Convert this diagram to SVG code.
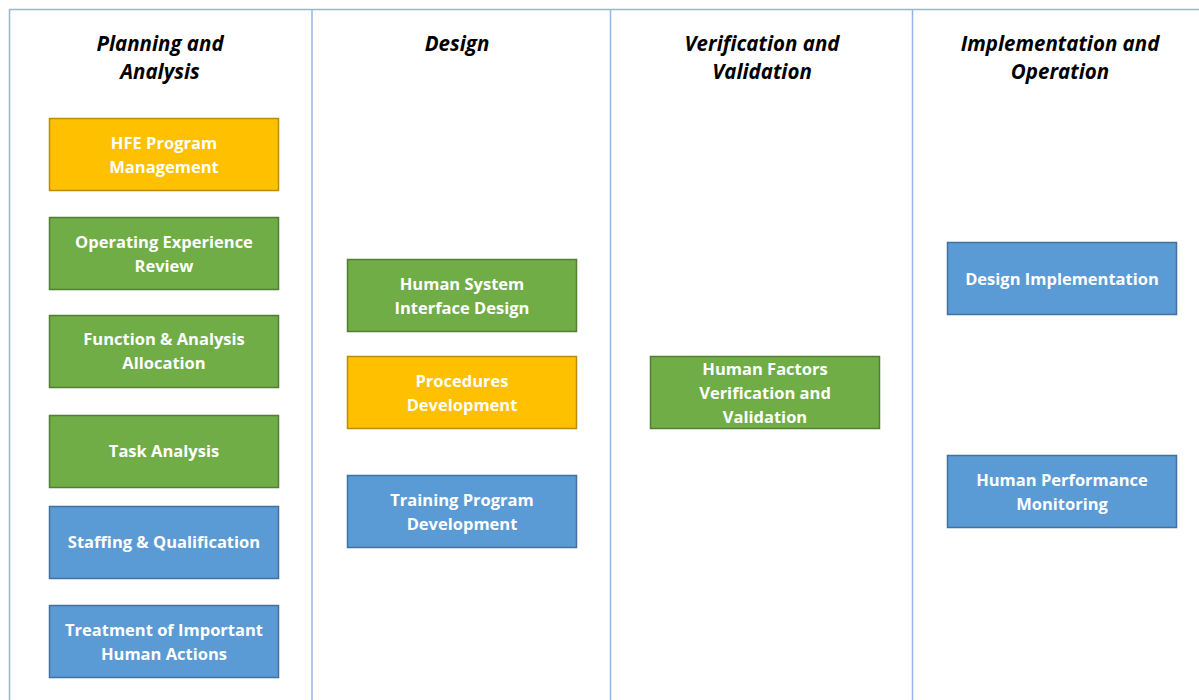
<svg xmlns="http://www.w3.org/2000/svg" width="1199" height="700" viewBox="0 0 1199 700">
  <style>
    .frame { fill: none; stroke: #8DB9E4; stroke-width: 1.5; }
    .head { font-family: "Open Sans", "Liberation Sans", sans-serif; font-weight: bold; font-style: italic; font-size: 20.5px; fill: #000; text-anchor: middle; }
    .lbl { font-family: "Open Sans", "Liberation Sans", sans-serif; font-weight: bold; font-size: 16.5px; fill: #fff; text-anchor: middle; }
    .gold { fill: #FFC000; stroke: #BC8C00; stroke-width: 1.5; }
    .green { fill: #70AD47; stroke: #507E32; stroke-width: 1.5; }
    .blue { fill: #5B9BD5; stroke: #41719C; stroke-width: 1.5; }
  </style>

  <rect width="1199" height="700" fill="#fff"/>

  <!-- phase columns -->
  <g id="columns">
    <path class="frame" d="M9.5 710 V9.5 H1210 M312 9.5 V710 M610.5 9.5 V710 M912.5 9.5 V710"/>
    <text class="head" x="160" y="51">Planning and</text>
    <text class="head" x="160" y="79">Analysis</text>
    <text class="head" x="457" y="51">Design</text>
    <text class="head" x="762" y="51">Verification and</text>
    <text class="head" x="762" y="79">Validation</text>
    <text class="head" x="1060" y="51">Implementation and</text>
    <text class="head" x="1060" y="79">Operation</text>
  </g>

  <g id="connectors"></g>

  <!-- Planning and Analysis -->
  <g id="hfe-program-management">
    <rect class="gold" x="49.5" y="118.5" width="229" height="72"/>
    <text class="lbl" x="164" y="149">HFE Program</text>
    <text class="lbl" x="164" y="173">Management</text>
  </g>
  <g id="operating-experience-review">
    <rect class="green" x="49.5" y="217.5" width="229" height="72"/>
    <text class="lbl" x="164" y="248">Operating Experience</text>
    <text class="lbl" x="164" y="272">Review</text>
  </g>
  <g id="function-analysis-allocation">
    <rect class="green" x="49.5" y="315.5" width="229" height="72"/>
    <text class="lbl" x="164" y="345">Function  &amp; Analysis</text>
    <text class="lbl" x="164" y="369">Allocation</text>
  </g>
  <g id="task-analysis">
    <rect class="green" x="49.5" y="415.5" width="229" height="72"/>
    <text class="lbl" x="164" y="457">Task Analysis</text>
  </g>
  <g id="staffing-qualification">
    <rect class="blue" x="49.5" y="506.5" width="229" height="72"/>
    <text class="lbl" x="164" y="548">Staffing &amp; Qualification</text>
  </g>
  <g id="treatment-important-human-actions">
    <rect class="blue" x="49.5" y="605.5" width="229" height="72"/>
    <text class="lbl" x="164" y="636">Treatment of Important</text>
    <text class="lbl" x="164" y="660">Human Actions</text>
  </g>

  <!-- Design -->
  <g id="hsi-design">
    <rect class="green" x="347.5" y="259.5" width="229" height="72"/>
    <text class="lbl" x="462" y="290">Human System</text>
    <text class="lbl" x="462" y="314">Interface Design</text>
  </g>
  <g id="procedures-development">
    <rect class="gold" x="347.5" y="356.5" width="229" height="72"/>
    <text class="lbl" x="462" y="387">Procedures</text>
    <text class="lbl" x="462" y="411">Development</text>
  </g>
  <g id="training-program-development">
    <rect class="blue" x="347.5" y="475.5" width="229" height="72"/>
    <text class="lbl" x="462" y="506">Training Program</text>
    <text class="lbl" x="462" y="530">Development</text>
  </g>

  <!-- Verification and Validation -->
  <g id="hf-verification-validation">
    <rect class="green" x="650.5" y="356.5" width="229" height="72"/>
    <text class="lbl" x="765" y="375">Human Factors</text>
    <text class="lbl" x="765" y="399">Verification and</text>
    <text class="lbl" x="765" y="423">Validation</text>
  </g>

  <!-- Implementation and Operation -->
  <g id="design-implementation">
    <rect class="blue" x="947.5" y="242.5" width="229" height="72"/>
    <text class="lbl" x="1062" y="285">Design Implementation</text>
  </g>
  <g id="human-performance-monitoring">
    <rect class="blue" x="947.5" y="455.5" width="229" height="72"/>
    <text class="lbl" x="1062" y="486">Human Performance</text>
    <text class="lbl" x="1062" y="510">Monitoring</text>
  </g>
</svg>
